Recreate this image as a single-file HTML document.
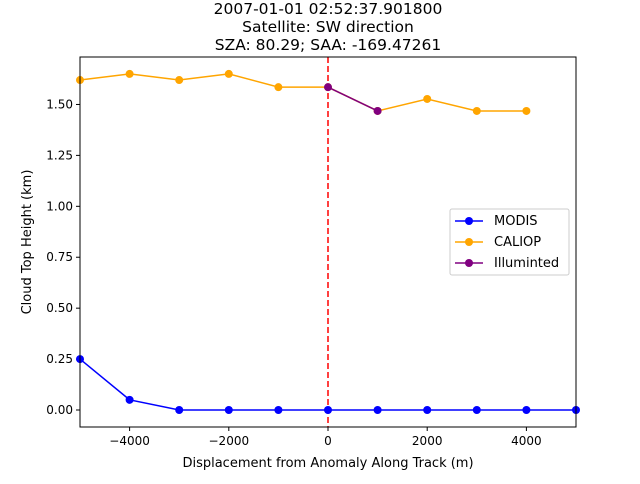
<!DOCTYPE html>
<html><head><meta charset="utf-8"><style>
body{margin:0;background:#fff;font-family:"DejaVu Sans","Liberation Sans",sans-serif;}
svg text{font-family:"DejaVu Sans","Liberation Sans",sans-serif;}
</style></head><body>
<svg id="chart" width="640" height="480" xmlns="http://www.w3.org/2000/svg">
<rect width="640" height="480" fill="#fff"/>
<g id="title" font-size="15.5" text-anchor="middle" fill="#000">
<text x="328" y="14">2007-01-01 02:52:37.901800</text>
<text x="328" y="32">Satellite: SW direction</text>
<text x="328" y="50">SZA: 80.29; SAA: -169.47261</text>
</g>
<g id="plot"></g>
<text x="328" y="467" font-size="13" text-anchor="middle">Displacement from Anomaly Along Track (m)</text>
<text transform="translate(31,242) rotate(-90)" font-size="13" text-anchor="middle">Cloud Top Height (km)</text>
<g>
<rect x="450" y="209" width="119" height="66" fill="#fff" stroke="#ccc" rx="2"/>
<line x1="455" y1="221" x2="483" y2="221" stroke="blue" stroke-width="1.5"/><circle cx="469" cy="221" r="4" fill="blue"/>
<text x="494" y="225" font-size="13">MODIS</text>
<line x1="455" y1="242" x2="483" y2="242" stroke="orange" stroke-width="1.5"/><circle cx="469" cy="242" r="4" fill="orange"/>
<text x="494" y="246" font-size="13">CALIOP</text>
<line x1="455" y1="263" x2="483" y2="263" stroke="purple" stroke-width="1.5"/><circle cx="469" cy="263" r="4" fill="purple"/>
<text x="494" y="267" font-size="13">Illuminted</text>
</g>
</svg>
<script>
const modisX=[-5000,-4000,-3000,-2000,-1000,0,1000,2000,3000,4000,5000];
const modisY=[0.25,0.05,0,0,0,0,0,0,0,0,0];
const caliopX=[-5000,-4000,-3000,-2000,-1000,0,1000,2000,3000,4000];
const caliopY=[1.62,1.65,1.62,1.65,1.585,1.585,1.468,1.527,1.468,1.468];
const illumX=[0,1000];
const illumY=[1.585,1.468];
const xTicks=[-4000,-2000,0,2000,4000];
const yTicks=[0,0.25,0.5,0.75,1.0,1.25,1.5];
const L=80,R=576,T=57,B=427,xmin=-5000,xmax=5000,ymin=-0.0834,ymax=1.733;
const sx=v=>L+(v-xmin)/(xmax-xmin)*(R-L);
const sy=v=>B-(v-ymin)/(ymax-ymin)*(B-T);
const NS="http://www.w3.org/2000/svg";
const g=document.getElementById('plot');
function mk(t,a){const e=document.createElementNS(NS,t);for(const k in a)e.setAttribute(k,a[k]);g.appendChild(e);return e;}
xTicks.forEach(v=>{const x=sx(v);
const l=mk('line',{x1:x,x2:x,y1:B,y2:B+4,stroke:'#000'});


const t=mk('text',{x:x,y:B+18,'font-size':12,'text-anchor':'middle'});t.textContent=(v<0?'\u2212'+(-v):v);

});
yTicks.forEach(v=>{const y=sy(v);
const l=mk('line',{x1:L-4,x2:L,y1:y,y2:y,stroke:'#000'});


const t=mk('text',{x:L-7,y:y+4,'font-size':12,'text-anchor':'end'});t.textContent=v.toFixed(2);

});
const vl=mk('line',{x1:sx(0),x2:sx(0),y1:T,y2:B,stroke:'red','stroke-width':1.5,'stroke-dasharray':'6,3'});


function series(xs,ys,c,name){
const p=mk('polyline',{points:xs.map((x,i)=>sx(x)+','+sy(ys[i])).join(' '),fill:'none',stroke:c,'stroke-width':1.5});


xs.forEach((x,i)=>{const c2=mk('circle',{cx:sx(x),cy:sy(ys[i]),r:4,fill:c});

});}
series(modisX,modisY,'blue','modis');
series(caliopX,caliopY,'orange','caliop');
series(illumX,illumY,'purple','illuminted');
const fr=mk('rect',{x:L,y:T,width:R-L,height:B-T,fill:'none',stroke:'#000','stroke-width':1});


</script>
</body></html>
